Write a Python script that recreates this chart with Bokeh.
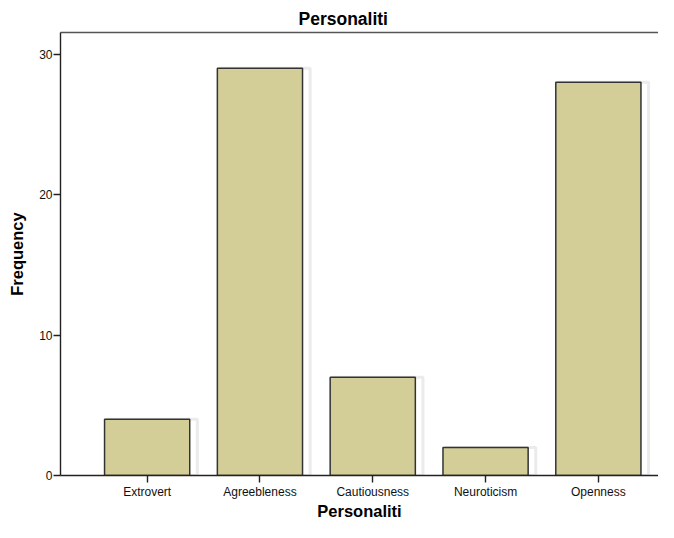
from bokeh.plotting import figure
from bokeh.models import ColumnDataSource, Range1d, FixedTicker, LinearAxis
from bokeh.transform import dodge
from bokeh.embed import file_html
from bokeh.resources import INLINE

categories = ["Extrovert", "Agreebleness", "Cautiousness", "Neuroticism", "Openness"]
frequency = [4, 29, 7, 2, 28]
y_ticks = [0, 10, 20, 30]

positions = list(range(1, len(categories) + 1))
src = ColumnDataSource(dict(x=positions, top=frequency, cat=categories))

FONT = "Liberation Sans"

p = figure(width=658, height=522, output_backend="svg", toolbar_location=None,
           x_range=Range1d(0.232, 5.533), y_range=Range1d(0, 31.55),
           min_border_left=60, min_border_right=0, min_border_top=32, min_border_bottom=0)

p.title.text = "Personaliti"
p.title.align = "left"
p.title.offset = 238
p.title.standoff = 7
p.title.text_font = FONT
p.title.text_font_size = "17.5px"
p.title.text_font_style = "bold"
p.title.text_color = "#000000"

p.outline_line_color = None
p.background_fill_color = "white"
p.border_fill_color = "white"
p.grid.visible = False

# faint shadow behind bars
p.vbar(x=dodge("x", 0.045, range=p.x_range), top="top", width=0.80, bottom=0, source=src,
       fill_color=None, line_color="#ebebeb", line_width=3)
p.vbar(x="x", top="top", width=0.755, bottom=0, source=src,
       fill_color="#d3ce97", line_color="#333333", line_width=1.5)

xa = p.xaxis[0]
xa.ticker = FixedTicker(ticks=positions)
xa.major_label_overrides = {pos: c for pos, c in zip(positions, categories)}
xa.axis_label = "Personaliti"
ya = p.yaxis[0]
ya.ticker = FixedTicker(ticks=y_ticks)
ya.axis_label = "Frequency"

for ax in (xa, ya):
    ax.axis_line_color = "#222222"
    ax.axis_line_width = 1.4
    ax.major_tick_line_color = "#222222"
    ax.major_tick_line_width = 1.4
    ax.major_tick_in = 0
    ax.major_tick_out = 7
    ax.minor_tick_line_color = None
    ax.major_label_text_font = FONT
    ax.major_label_text_font_size = "12px"
    ax.major_label_text_color = "#111111"
    ax.axis_label_text_font = FONT
    ax.axis_label_text_font_size = "16.5px"
    ax.axis_label_text_font_style = "bold"
    ax.axis_label_text_color = "#000000"

xa.major_label_standoff = 2
xa.axis_label_standoff = 0
ya.major_label_standoff = 1
ya.axis_label_standoff = 10

top_axis = LinearAxis(ticker=FixedTicker(ticks=[]), major_label_text_font_size="0px",
                      major_tick_out=0, major_tick_in=0, minor_tick_out=0, minor_tick_in=0,
                      axis_line_color="#555555", axis_line_width=1.4)
p.add_layout(top_axis, "above")

open("out.html", "w").write(file_html(p, INLINE))
